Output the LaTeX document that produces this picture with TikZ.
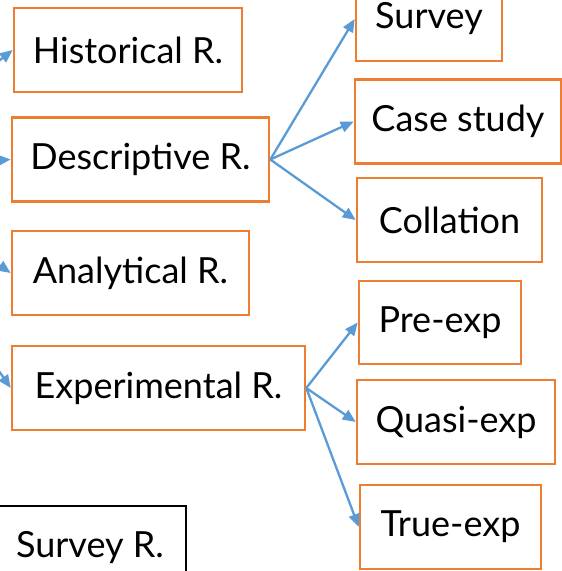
\documentclass[tikz,border=0pt]{standalone}
\usepackage{fontspec}
\setmainfont{Lato}
\usetikzlibrary{arrows.meta}
\definecolor{boxorange}{HTML}{ED7D31}
\definecolor{linkblue}{HTML}{5B9BD5}
\begin{document}
\begin{tikzpicture}[x=1pt,y=-1pt,
  kind/.style={draw=boxorange,line width=2.6pt,fill=white,inner sep=0pt,
    minimum height=84pt,font=\fontsize{36}{40}\selectfont},
  plain/.style={draw=black,line width=2.6pt,fill=white,inner sep=0pt,
    minimum height=84pt,font=\fontsize{36}{40}\selectfont},
  link/.style={draw=linkblue,line width=2.3pt,-{Triangle[length=13pt,width=11pt]}}]
\useasboundingbox (0,0) rectangle (562,571);
\clip (0,0) rectangle (562,571);

% research types
\node[kind,minimum width=228pt] (hist) at (128,50) {Historical R.};
\node[kind,minimum width=257pt] (desc) at (140.5,159.5) {Descriptive R.};
\node[kind,minimum width=237pt] (anal) at (130.5,273) {Analytical R.};
\node[kind,minimum width=293pt] (expr) at (158.5,388) {Experimental R.};
\node[plain,minimum width=192pt] (surv) at (90,548) {Survey R.};

% descriptive branches
\node[kind,minimum width=146pt] (survey) at (429,19) {Survey};
\node[kind,minimum width=206pt] (case) at (458,121.5) {Case study};
\node[kind,minimum width=185pt] (coll) at (449.5,220) {Collation};

% experimental branches
\node[kind,minimum width=162pt,minimum height=83pt] (pre) at (440,322.5) {Pre-exp};
\node[kind,minimum width=198pt] (quasi) at (456,422) {Quasi-exp};
\node[kind,minimum width=181pt] (true) at (450.5,527) {True-exp};

% common root to the left
\coordinate (root) at (-140,170);
\draw[link] (root) -- (hist.west);
\draw[link] (root) -- (desc.west);
\draw[link] (root) -- (anal.west);
\draw[link] (root) -- (expr.west);

\draw[link] (desc.east) -- (survey.west);
\draw[link] (desc.east) -- (case.west);
\draw[link] (desc.east) -- (coll.west);

\draw[link] (expr.east) -- (pre.west);
\draw[link] (expr.east) -- (quasi.west);
\draw[link] (expr.east) -- (true.west);
\end{tikzpicture}
\end{document}
